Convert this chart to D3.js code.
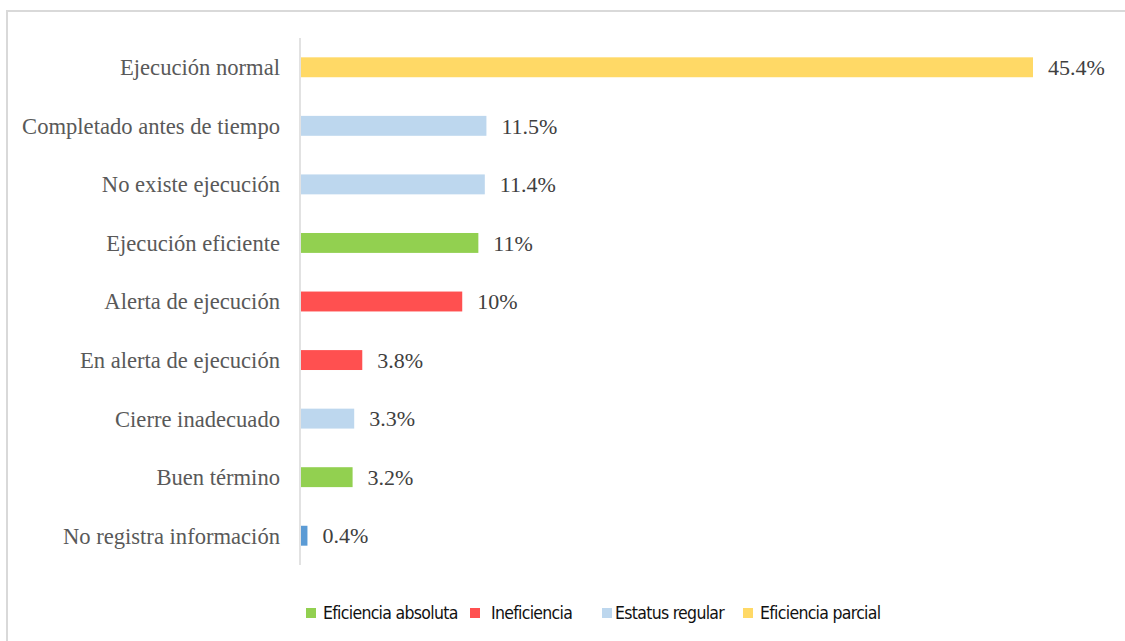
<!DOCTYPE html>
<html>
<head>
<meta charset="utf-8">
<script src="https://cdn.jsdelivr.net/npm/d3@7"></script>
<style>
  body { margin: 0; background: #fff; }
</style>
</head>
<body>
<div id="chart"></div>
<script>
// data
const categories = [
    "Ejecución normal",
    "Completado antes de tiempo",
    "No existe ejecución",
    "Ejecución eficiente",
    "Alerta de ejecución",
    "En alerta de ejecución",
    "Cierre inadecuado",
    "Buen término",
    "No registra información"
];
const values = [45.4, 11.5, 11.4, 11, 10, 3.8, 3.3, 3.2, 0.4];
const valueLabels = ["45.4%", "11.5%", "11.4%", "11%", "10%", "3.8%", "3.3%", "3.2%", "0.4%"];
const groups = ["parcial", "regular", "regular", "absoluta", "ineficiencia", "ineficiencia", "regular", "absoluta", "sin"];
const legendKeys = ["absoluta", "ineficiencia", "regular", "parcial"];
const legendNames = ["Eficiencia absoluta", "Ineficiencia", "Estatus regular", "Eficiencia parcial"];

const width = 1125, height = 641;

const colors = {
    absoluta: "#92d050",
    ineficiencia: "#ff5050",
    regular: "#bdd7ee",
    parcial: "#ffd966",
    sin: "#5b9bd5"
};

const svg = d3.select("#chart")
    .append("svg")
    .attr("width", width)
    .attr("height", height);

// outer frame (top and left edges visible)
svg.append("path")
    .attr("d", `M 7,${height} L 7,11 L ${width},11`)
    .attr("fill", "none")
    .attr("stroke", "#d9d9d9")
    .attr("stroke-width", 2);

const x = d3.scaleLinear()
    .domain([0, 45.4])
    .range([301, 1033]);

const y = d3.scaleBand()
    .domain(categories)
    .range([38, 565])
    .paddingInner(0.66)
    .paddingOuter(0.33);

// axis line
svg.append("line")
    .attr("x1", 300).attr("x2", 300)
    .attr("y1", 38).attr("y2", 565)
    .attr("stroke", "#d9d9d9")
    .attr("stroke-width", 1.5);

const rows = categories.map((c, i) => ({ c, v: values[i], lab: valueLabels[i], g: groups[i] }));

svg.selectAll(".bar")
    .data(rows)
    .join("rect")
    .attr("class", "bar")
    .attr("x", x(0))
    .attr("y", d => y(d.c))
    .attr("width", d => x(d.v) - x(0))
    .attr("height", y.bandwidth())
    .attr("fill", d => colors[d.g]);

// category labels
svg.selectAll(".cat")
    .data(rows)
    .join("text")
    .attr("class", "cat")
    .attr("x", 280)
    .attr("y", d => y(d.c) + y.bandwidth() / 2)
    .attr("dy", "0.35em")
    .attr("text-anchor", "end")
    .style("font-family", "'Liberation Serif', 'Times New Roman', serif")
    .style("font-size", "22.6px")
    .style("fill", "#595959")
    .text(d => d.c);

// value labels
svg.selectAll(".val")
    .data(rows)
    .join("text")
    .attr("class", "val")
    .attr("x", d => x(d.v) + 15)
    .attr("y", d => y(d.c) + y.bandwidth() / 2)
    .attr("dy", "0.35em")
    .style("font-family", "'Liberation Serif', 'Times New Roman', serif")
    .style("font-size", "22px")
    .style("fill", "#404040")
    .text(d => d.lab);

// legend (positions of the swatches as in the picture)
const legend = svg.append("g").attr("transform", "translate(306,613)");
const legendX = [0, 164, 296, 437];
const legendTextX = [17, 21, 13, 17];
legendKeys.forEach((k, i) => {
    const g = legend.append("g").attr("transform", `translate(${legendX[i]},0)`);
    g.append("rect")
        .attr("x", 0).attr("y", -5)
        .attr("width", 10).attr("height", 10)
        .attr("fill", colors[k]);
    g.append("text")
        .attr("x", legendTextX[i])
        .attr("y", 0)
        .attr("dy", "0.35em")
        .style("font-family", "'DejaVu Sans Condensed', 'DejaVu Sans', sans-serif")
        .style("font-stretch", "condensed")
        .style("font-size", "17.5px")
        .style("letter-spacing", "-0.7px")
        .style("fill", "#111")
        .text(legendNames[i]);
});
</script>
</body>
</html>
